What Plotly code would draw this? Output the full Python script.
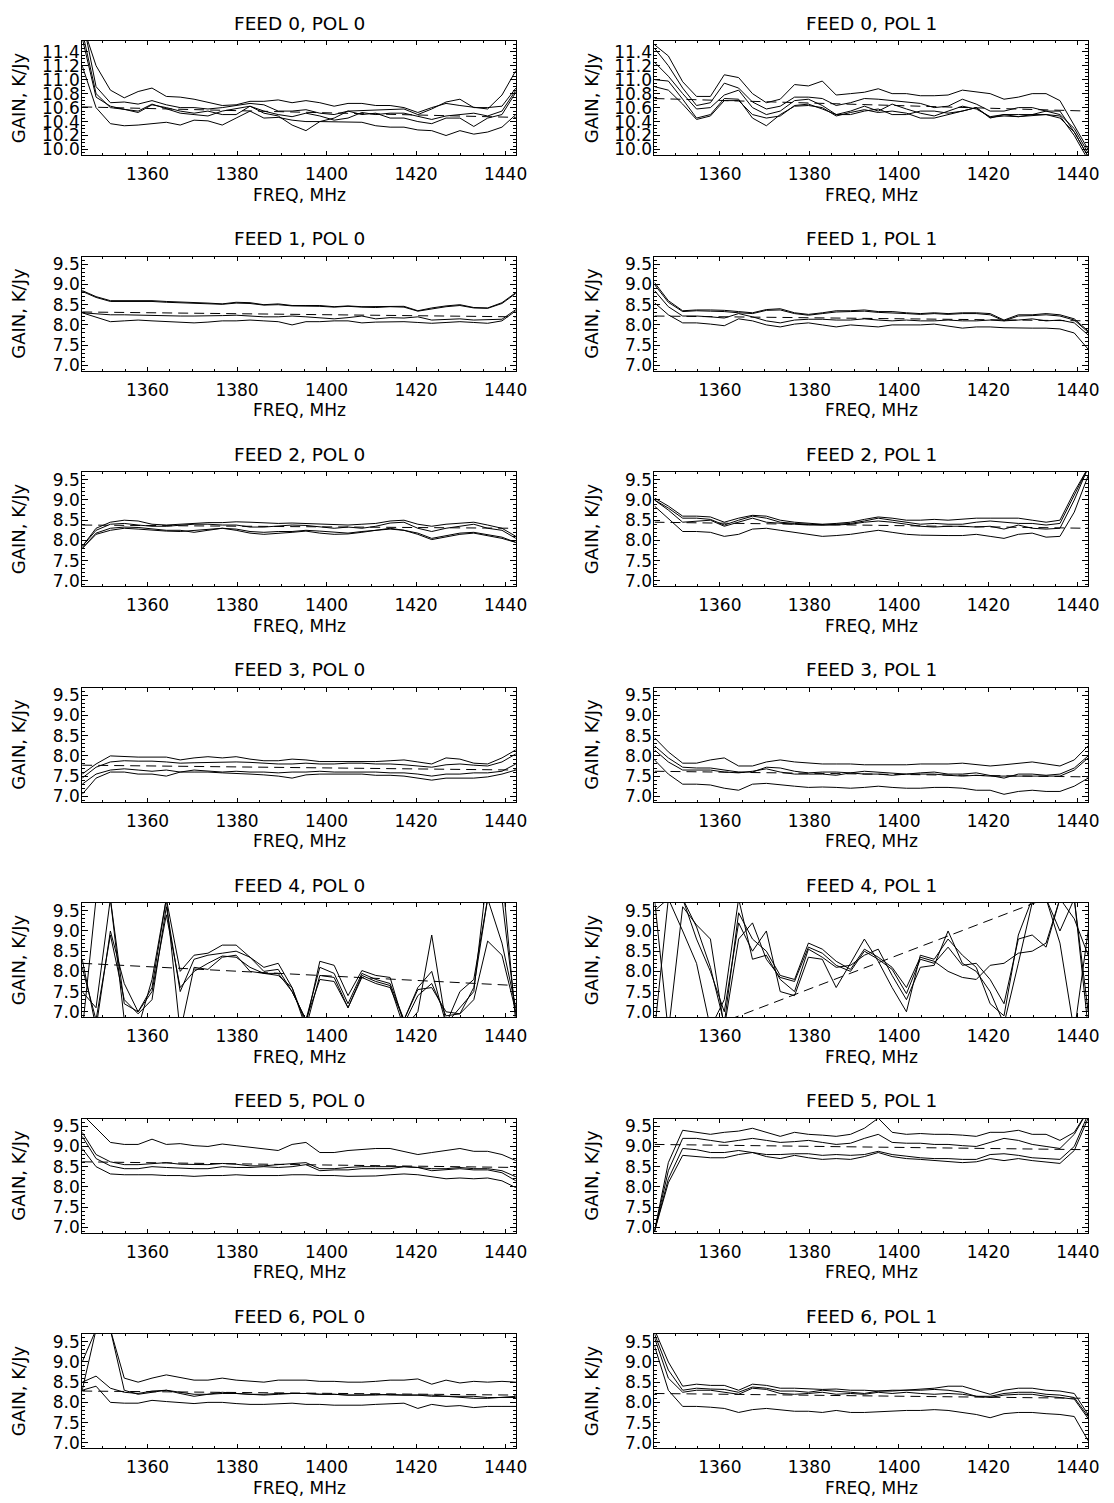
import plotly.graph_objects as go

# ---------------- data ----------------
freq = [1345.4, 1348.5, 1351.7, 1354.8, 1357.9, 1361.0, 1364.2, 1367.3, 1370.4, 1373.5,
        1376.7, 1379.8, 1382.9, 1386.0, 1389.2, 1392.3, 1395.4, 1398.5, 1401.7, 1404.8,
        1407.9, 1411.0, 1414.2, 1417.3, 1420.4, 1423.5, 1426.7, 1429.8, 1432.9, 1436.0,
        1439.2, 1442.3]

x_ticks = [1360, 1380, 1400, 1420, 1440]

titles = ["FEED 0, POL 0", "FEED 0, POL 1", "FEED 1, POL 0", "FEED 1, POL 1",
          "FEED 2, POL 0", "FEED 2, POL 1", "FEED 3, POL 0", "FEED 3, POL 1",
          "FEED 4, POL 0", "FEED 4, POL 1", "FEED 5, POL 0", "FEED 5, POL 1",
          "FEED 6, POL 0", "FEED 6, POL 1"]

F0P0 = [
    [11.8, 11.2, 10.85, 10.74, 10.83, 10.88, 10.76, 10.75, 10.72, 10.68, 10.63, 10.64, 10.69, 10.69, 10.71, 10.67,
     10.70, 10.67, 10.62, 10.66, 10.66, 10.63, 10.63, 10.60, 10.53, 10.60, 10.66, 10.63, 10.60, 10.58, 10.78, 11.13],
    [11.9, 10.9, 10.67, 10.68, 10.65, 10.70, 10.64, 10.60, 10.60, 10.58, 10.60, 10.63, 10.66, 10.64, 10.55, 10.55,
     10.57, 10.52, 10.50, 10.55, 10.56, 10.57, 10.58, 10.58, 10.50, 10.58, 10.68, 10.72, 10.60, 10.60, 10.62, 10.88],
    [11.7, 10.8, 10.60, 10.57, 10.55, 10.65, 10.58, 10.52, 10.50, 10.48, 10.55, 10.58, 10.62, 10.55, 10.50, 10.47,
     10.52, 10.48, 10.42, 10.45, 10.53, 10.50, 10.52, 10.52, 10.48, 10.43, 10.48, 10.50, 10.52, 10.48, 10.55, 10.85],
    [11.6, 10.75, 10.62, 10.57, 10.53, 10.64, 10.60, 10.55, 10.52, 10.55, 10.50, 10.50, 10.62, 10.52, 10.48, 10.35,
     10.27, 10.40, 10.45, 10.55, 10.50, 10.52, 10.45, 10.45, 10.40, 10.37, 10.45, 10.45, 10.33, 10.45, 10.50, 10.82],
    [11.2, 10.6, 10.37, 10.34, 10.35, 10.37, 10.39, 10.35, 10.42, 10.41, 10.35, 10.45, 10.55, 10.45, 10.46, 10.42,
     10.40, 10.40, 10.40, 10.40, 10.39, 10.34, 10.32, 10.32, 10.28, 10.27, 10.20, 10.27, 10.22, 10.25, 10.32, 10.50],
]
F0P1 = [
    [11.5, 11.34, 10.97, 10.76, 10.76, 11.07, 11.03, 10.80, 10.67, 10.72, 10.93, 10.91, 10.98, 10.78, 10.80, 10.82,
     10.87, 10.80, 10.80, 10.77, 10.77, 10.78, 10.85, 10.83, 10.80, 10.72, 10.75, 10.80, 10.80, 10.70, 10.35, 10.00],
    [11.45, 11.2, 10.88, 10.63, 10.67, 10.95, 10.88, 10.68, 10.58, 10.62, 10.75, 10.75, 10.73, 10.63, 10.67, 10.73,
     10.72, 10.70, 10.68, 10.66, 10.60, 10.62, 10.72, 10.65, 10.55, 10.55, 10.60, 10.60, 10.55, 10.50, 10.30, 9.95],
    [11.25, 11.05, 10.80, 10.58, 10.60, 10.78, 10.85, 10.60, 10.50, 10.55, 10.70, 10.72, 10.63, 10.50, 10.55, 10.62,
     10.55, 10.65, 10.58, 10.52, 10.48, 10.55, 10.62, 10.58, 10.47, 10.50, 10.47, 10.50, 10.55, 10.55, 10.25, 9.90],
    [11.0, 10.98, 10.72, 10.45, 10.50, 10.73, 10.72, 10.45, 10.34, 10.50, 10.62, 10.63, 10.60, 10.48, 10.53, 10.57,
     10.53, 10.55, 10.52, 10.45, 10.45, 10.50, 10.55, 10.60, 10.46, 10.48, 10.47, 10.48, 10.50, 10.48, 10.20, 9.85],
    [10.9, 10.85, 10.65, 10.43, 10.48, 10.70, 10.70, 10.50, 10.45, 10.48, 10.63, 10.65, 10.58, 10.50, 10.50, 10.55,
     10.58, 10.50, 10.50, 10.55, 10.55, 10.52, 10.55, 10.60, 10.45, 10.50, 10.50, 10.50, 10.50, 10.45, 10.25, 9.90],
]
F1P0 = [
    [8.85, 8.70, 8.60, 8.60, 8.60, 8.60, 8.58, 8.57, 8.55, 8.54, 8.52, 8.56, 8.55, 8.50, 8.52, 8.48,
     8.48, 8.48, 8.45, 8.47, 8.45, 8.45, 8.46, 8.46, 8.35, 8.42, 8.47, 8.50, 8.43, 8.42, 8.55, 8.80],
    [8.83, 8.68, 8.58, 8.58, 8.59, 8.58, 8.56, 8.55, 8.54, 8.52, 8.51, 8.54, 8.53, 8.49, 8.50, 8.47,
     8.47, 8.46, 8.44, 8.46, 8.44, 8.43, 8.45, 8.44, 8.34, 8.40, 8.45, 8.48, 8.42, 8.41, 8.53, 8.78],
    [8.30, 8.28, 8.25, 8.25, 8.24, 8.23, 8.23, 8.22, 8.22, 8.22, 8.23, 8.24, 8.22, 8.20, 8.20, 8.22,
     8.20, 8.18, 8.15, 8.18, 8.22, 8.15, 8.18, 8.17, 8.20, 8.12, 8.13, 8.15, 8.12, 8.13, 8.14, 8.38],
    [8.30, 8.20, 8.08, 8.10, 8.12, 8.10, 8.08, 8.06, 8.05, 8.07, 8.10, 8.10, 8.12, 8.10, 8.08, 8.00,
     8.08, 8.08, 8.10, 8.10, 8.05, 8.07, 8.08, 8.08, 8.06, 8.04, 8.06, 8.08, 8.06, 8.04, 8.10, 8.35],
]
F1P1 = [
    [9.05, 8.60, 8.35, 8.37, 8.37, 8.36, 8.33, 8.30, 8.38, 8.40, 8.30, 8.26, 8.30, 8.35, 8.35, 8.37,
     8.33, 8.33, 8.30, 8.28, 8.30, 8.28, 8.30, 8.30, 8.28, 8.12, 8.25, 8.25, 8.28, 8.25, 8.15, 7.85],
    [9.00, 8.56, 8.33, 8.35, 8.34, 8.33, 8.30, 8.28, 8.36, 8.37, 8.28, 8.24, 8.28, 8.32, 8.33, 8.34,
     8.31, 8.30, 8.28, 8.26, 8.28, 8.26, 8.28, 8.28, 8.25, 8.10, 8.22, 8.23, 8.25, 8.22, 8.12, 7.82],
    [8.85, 8.45, 8.22, 8.22, 8.20, 8.17, 8.28, 8.20, 8.10, 8.05, 8.12, 8.14, 8.14, 8.12, 8.12, 8.15,
     8.12, 8.10, 8.12, 8.10, 8.10, 8.12, 8.10, 8.10, 8.12, 8.10, 8.12, 8.15, 8.10, 8.12, 8.05, 7.75],
    [8.55, 8.25, 8.05, 8.05, 8.02, 7.98, 8.15, 8.10, 8.00, 7.95, 8.02, 8.05, 8.00, 7.95, 8.00, 7.98,
     7.95, 8.00, 8.00, 8.00, 8.02, 7.97, 7.92, 7.95, 7.95, 7.93, 7.92, 7.92, 7.92, 7.90, 7.80, 7.40],
]
F2P0 = [
    [7.85, 8.30, 8.45, 8.50, 8.48, 8.40, 8.38, 8.40, 8.42, 8.44, 8.44, 8.46, 8.45, 8.44, 8.42, 8.43,
     8.42, 8.40, 8.40, 8.38, 8.40, 8.42, 8.48, 8.50, 8.40, 8.35, 8.40, 8.42, 8.45, 8.38, 8.30, 8.10],
    [7.85, 8.25, 8.40, 8.42, 8.38, 8.35, 8.35, 8.38, 8.40, 8.40, 8.38, 8.38, 8.33, 8.33, 8.36, 8.38,
     8.37, 8.33, 8.30, 8.33, 8.30, 8.35, 8.43, 8.45, 8.30, 8.22, 8.30, 8.35, 8.40, 8.30, 8.25, 8.05],
    [7.80, 8.18, 8.30, 8.33, 8.32, 8.28, 8.25, 8.25, 8.20, 8.25, 8.30, 8.28, 8.22, 8.20, 8.22, 8.22,
     8.25, 8.23, 8.20, 8.18, 8.22, 8.25, 8.28, 8.25, 8.18, 8.05, 8.12, 8.18, 8.20, 8.15, 8.08, 7.95],
    [7.80, 8.15, 8.25, 8.30, 8.28, 8.25, 8.23, 8.22, 8.25, 8.28, 8.30, 8.25, 8.18, 8.15, 8.17, 8.20,
     8.23, 8.18, 8.15, 8.16, 8.20, 8.25, 8.30, 8.25, 8.15, 8.02, 8.08, 8.15, 8.18, 8.12, 8.05, 7.95],
]
F2P1 = [
    [9.05, 8.85, 8.60, 8.60, 8.58, 8.45, 8.55, 8.62, 8.60, 8.50, 8.45, 8.42, 8.40, 8.42, 8.45, 8.52,
     8.58, 8.55, 8.50, 8.50, 8.52, 8.50, 8.52, 8.55, 8.55, 8.55, 8.55, 8.50, 8.45, 8.50, 9.20, 9.80],
    [9.00, 8.80, 8.55, 8.55, 8.52, 8.38, 8.50, 8.60, 8.55, 8.45, 8.42, 8.40, 8.38, 8.40, 8.42, 8.48,
     8.55, 8.50, 8.45, 8.40, 8.42, 8.40, 8.40, 8.45, 8.48, 8.45, 8.42, 8.42, 8.38, 8.42, 9.10, 9.80],
    [9.00, 8.75, 8.45, 8.48, 8.50, 8.35, 8.45, 8.55, 8.45, 8.42, 8.40, 8.38, 8.38, 8.38, 8.40, 8.45,
     8.48, 8.45, 8.40, 8.35, 8.33, 8.35, 8.35, 8.33, 8.35, 8.28, 8.38, 8.30, 8.28, 8.30, 9.00, 9.80],
    [8.85, 8.55, 8.22, 8.22, 8.20, 8.10, 8.15, 8.28, 8.30, 8.25, 8.20, 8.15, 8.10, 8.12, 8.15, 8.20,
     8.25, 8.20, 8.15, 8.13, 8.12, 8.12, 8.12, 8.15, 8.10, 8.05, 8.15, 8.18, 8.08, 8.10, 8.70, 9.60],
]
F3P0 = [
    [7.55, 7.80, 8.00, 7.98, 7.97, 7.97, 7.97, 7.90, 7.95, 7.98, 7.95, 7.98, 7.92, 7.88, 7.88, 7.92,
     7.90, 7.86, 7.86, 7.85, 7.85, 7.86, 7.88, 7.90, 7.85, 7.80, 7.95, 7.92, 7.82, 7.80, 7.95, 8.15],
    [7.45, 7.72, 7.85, 7.88, 7.87, 7.87, 7.85, 7.82, 7.83, 7.84, 7.84, 7.85, 7.84, 7.82, 7.80, 7.80,
     7.82, 7.80, 7.80, 7.82, 7.82, 7.80, 7.80, 7.78, 7.75, 7.72, 7.78, 7.80, 7.77, 7.75, 7.85, 8.05],
    [7.30, 7.55, 7.65, 7.68, 7.65, 7.62, 7.65, 7.60, 7.65, 7.62, 7.60, 7.62, 7.60, 7.60, 7.58, 7.60,
     7.60, 7.62, 7.60, 7.60, 7.60, 7.60, 7.58, 7.58, 7.55, 7.50, 7.55, 7.55, 7.58, 7.58, 7.62, 7.80],
    [7.05, 7.45, 7.60, 7.60, 7.55, 7.55, 7.50, 7.60, 7.60, 7.60, 7.58, 7.57, 7.55, 7.53, 7.50, 7.45,
     7.53, 7.55, 7.55, 7.55, 7.55, 7.52, 7.52, 7.50, 7.45, 7.40, 7.45, 7.45, 7.45, 7.48, 7.55, 7.65],
]
F3P1 = [
    [8.45, 8.10, 7.82, 7.82, 7.90, 7.95, 7.75, 7.75, 7.85, 7.90, 7.85, 7.82, 7.80, 7.80, 7.80, 7.78,
     7.78, 7.78, 7.78, 7.80, 7.80, 7.80, 7.82, 7.78, 7.75, 7.78, 7.82, 7.85, 7.80, 7.75, 7.90, 8.25],
    [8.25, 7.95, 7.72, 7.70, 7.70, 7.65, 7.60, 7.60, 7.72, 7.70, 7.62, 7.58, 7.60, 7.60, 7.58, 7.62,
     7.60, 7.58, 7.55, 7.58, 7.60, 7.55, 7.55, 7.58, 7.52, 7.45, 7.55, 7.55, 7.52, 7.55, 7.70, 8.00],
    [8.15, 7.85, 7.65, 7.65, 7.65, 7.60, 7.58, 7.62, 7.68, 7.60, 7.55, 7.55, 7.55, 7.52, 7.58, 7.55,
     7.55, 7.52, 7.55, 7.55, 7.55, 7.52, 7.50, 7.52, 7.50, 7.50, 7.50, 7.50, 7.50, 7.50, 7.65, 7.95],
    [7.90, 7.55, 7.30, 7.30, 7.28, 7.20, 7.15, 7.30, 7.32, 7.28, 7.25, 7.22, 7.23, 7.22, 7.20, 7.22,
     7.25, 7.22, 7.20, 7.20, 7.22, 7.22, 7.20, 7.15, 7.15, 7.05, 7.12, 7.15, 7.12, 7.12, 7.25, 7.45],
]
F4P0 = [
    [8.30, 6.60, 9.00, 7.70, 7.00, 7.60, 9.80, 8.00, 8.40, 8.45, 8.65, 8.65, 8.35, 8.10, 8.20, 7.60,
     6.70, 8.25, 8.15, 7.40, 8.02, 7.90, 7.85, 6.70, 7.40, 7.70, 6.90, 6.95, 7.30, 8.75, 8.40, 7.00],
    [8.10, 6.80, 8.90, 7.30, 6.95, 7.30, 9.60, 7.50, 8.30, 8.40, 8.45, 8.50, 8.35, 8.00, 8.05, 7.50,
     6.80, 8.10, 7.95, 7.20, 7.95, 7.80, 7.70, 6.80, 7.60, 8.00, 6.70, 7.50, 7.80, 9.80, 8.70, 7.10],
    [6.50, 9.80, 9.80, 7.20, 7.00, 7.50, 9.40, 7.60, 8.00, 8.20, 8.38, 8.35, 8.10, 7.95, 7.90, 7.60,
     6.60, 7.90, 7.85, 7.10, 7.90, 7.75, 7.65, 6.60, 7.00, 8.90, 6.70, 7.10, 7.50, 10.50, 9.80, 6.90],
    [7.50, 7.10, 9.80, 6.80, 6.60, 7.80, 9.80, 6.50, 8.10, 8.05, 8.35, 8.40, 8.00, 7.95, 7.95, 7.50,
     6.80, 7.80, 7.75, 7.10, 7.85, 7.70, 7.60, 6.80, 7.55, 7.60, 7.00, 6.95, 7.60, 9.80, 10.50, 6.70],
]
F4P1 = [
    [9.70, 9.80, 9.80, 9.10, 8.10, 6.70, 9.45, 8.80, 8.50, 7.90, 7.80, 8.70, 8.55, 8.25, 8.05, 8.55,
     8.35, 8.10, 7.60, 8.35, 8.25, 8.00, 7.85, 7.80, 8.15, 8.20, 8.45, 8.50, 8.70, 9.80, 9.80, 7.00],
    [9.80, 6.50, 9.60, 9.15, 8.80, 6.60, 8.80, 9.20, 8.30, 7.85, 7.75, 8.60, 8.45, 8.15, 8.00, 8.50,
     8.30, 8.05, 7.45, 8.30, 8.20, 8.60, 8.15, 8.20, 7.80, 7.20, 8.80, 8.90, 8.60, 9.80, 9.30, 8.40],
    [6.50, 9.80, 9.80, 8.80, 8.00, 7.00, 9.20, 8.50, 9.00, 7.50, 7.40, 8.35, 8.30, 7.60, 8.20, 8.80,
     8.25, 7.60, 7.00, 8.40, 8.30, 8.80, 8.40, 8.10, 7.20, 6.90, 8.90, 9.80, 9.80, 8.70, 6.50, 9.00],
    [9.50, 9.80, 9.00, 8.20, 6.60, 7.30, 9.80, 8.30, 8.40, 7.80, 7.50, 8.55, 8.35, 8.10, 8.15, 8.40,
     8.55, 7.90, 7.30, 8.10, 8.15, 9.00, 8.20, 8.00, 7.50, 6.70, 8.20, 9.70, 9.80, 9.00, 9.80, 6.60],
]
F5P0 = [
    [9.80, 9.45, 9.10, 9.05, 9.05, 9.18, 9.05, 9.07, 9.02, 9.00, 9.06, 9.02, 8.98, 8.95, 8.90, 9.05,
     9.10, 8.85, 8.85, 8.90, 8.92, 8.95, 8.95, 8.88, 8.80, 8.85, 8.90, 8.95, 8.88, 8.88, 8.80, 8.65],
    [9.35, 8.80, 8.62, 8.55, 8.55, 8.58, 8.60, 8.56, 8.55, 8.55, 8.58, 8.56, 8.52, 8.52, 8.55, 8.58,
     8.60, 8.45, 8.45, 8.48, 8.50, 8.50, 8.50, 8.50, 8.48, 8.45, 8.45, 8.48, 8.45, 8.45, 8.40, 8.25],
    [9.25, 8.70, 8.52, 8.45, 8.45, 8.50, 8.48, 8.46, 8.45, 8.45, 8.50, 8.48, 8.48, 8.50, 8.48, 8.50,
     8.55, 8.40, 8.42, 8.42, 8.45, 8.45, 8.45, 8.50, 8.48, 8.40, 8.42, 8.45, 8.42, 8.42, 8.35, 8.15],
    [8.95, 8.50, 8.32, 8.30, 8.30, 8.30, 8.28, 8.28, 8.26, 8.28, 8.28, 8.30, 8.28, 8.28, 8.28, 8.30,
     8.30, 8.28, 8.28, 8.26, 8.27, 8.27, 8.30, 8.32, 8.30, 8.25, 8.20, 8.22, 8.20, 8.22, 8.15, 7.98],
]
F5P1 = [
    [6.90, 8.60, 9.40, 9.35, 9.30, 9.35, 9.38, 9.45, 9.35, 9.25, 9.35, 9.30, 9.28, 9.25, 9.30, 9.45,
     9.70, 9.35, 9.30, 9.32, 9.30, 9.30, 9.28, 9.25, 9.35, 9.35, 9.40, 9.30, 9.30, 9.15, 9.35, 9.90],
    [6.90, 8.40, 9.20, 9.20, 9.15, 9.10, 9.15, 9.20, 9.15, 9.10, 9.12, 9.15, 9.10, 9.05, 9.08, 9.20,
     9.30, 9.10, 9.08, 9.08, 9.05, 9.05, 9.02, 9.00, 9.10, 9.20, 9.15, 9.05, 9.00, 8.95, 9.30, 9.90],
    [6.90, 8.20, 8.95, 8.92, 8.85, 8.85, 8.90, 8.85, 8.80, 8.80, 8.82, 8.82, 8.78, 8.80, 8.78, 8.80,
     8.88, 8.80, 8.75, 8.72, 8.70, 8.70, 8.68, 8.68, 8.80, 8.82, 8.78, 8.72, 8.70, 8.68, 9.00, 9.80],
    [6.90, 8.10, 8.78, 8.75, 8.72, 8.72, 8.80, 8.85, 8.75, 8.70, 8.78, 8.72, 8.68, 8.70, 8.68, 8.75,
     8.85, 8.75, 8.70, 8.68, 8.65, 8.62, 8.60, 8.62, 8.70, 8.65, 8.70, 8.65, 8.62, 8.58, 8.90, 9.70],
]
F6P0 = [
    [9.00, 9.80, 9.80, 8.60, 8.50, 8.60, 8.68, 8.62, 8.55, 8.55, 8.60, 8.55, 8.52, 8.50, 8.55, 8.55,
     8.55, 8.52, 8.52, 8.50, 8.50, 8.52, 8.55, 8.55, 8.58, 8.45, 8.55, 8.48, 8.52, 8.50, 8.52, 8.50],
    [8.50, 8.65, 8.35, 8.25, 8.22, 8.28, 8.30, 8.25, 8.20, 8.20, 8.22, 8.22, 8.20, 8.20, 8.22, 8.22,
     8.22, 8.20, 8.20, 8.18, 8.18, 8.18, 8.20, 8.18, 8.18, 8.15, 8.15, 8.15, 8.15, 8.12, 8.12, 8.12],
    [8.30, 9.80, 9.80, 8.30, 8.20, 8.25, 8.30, 8.22, 8.15, 8.20, 8.25, 8.22, 8.20, 8.18, 8.20, 8.22,
     8.22, 8.20, 8.20, 8.18, 8.18, 8.20, 8.18, 8.18, 8.17, 8.18, 8.15, 8.12, 8.10, 8.10, 8.12, 8.15],
    [8.30, 8.40, 8.00, 7.98, 7.98, 8.05, 8.02, 8.00, 7.97, 8.00, 8.00, 7.97, 7.95, 7.95, 7.97, 7.98,
     7.95, 7.95, 7.93, 7.93, 7.93, 7.95, 7.97, 7.98, 7.85, 7.95, 7.90, 7.92, 7.87, 7.90, 7.90, 7.90],
]
F6P1 = [
    [9.80, 9.00, 8.40, 8.45, 8.42, 8.42, 8.30, 8.45, 8.42, 8.35, 8.35, 8.33, 8.32, 8.33, 8.30, 8.30,
     8.28, 8.28, 8.30, 8.32, 8.35, 8.40, 8.40, 8.30, 8.20, 8.30, 8.35, 8.35, 8.30, 8.28, 8.22, 7.70],
    [9.70, 8.80, 8.30, 8.35, 8.33, 8.32, 8.25, 8.38, 8.35, 8.28, 8.28, 8.25, 8.30, 8.28, 8.25, 8.22,
     8.28, 8.30, 8.30, 8.30, 8.32, 8.30, 8.25, 8.15, 8.15, 8.22, 8.25, 8.25, 8.20, 8.18, 8.12, 7.65],
    [9.60, 8.60, 8.25, 8.30, 8.30, 8.25, 8.20, 8.35, 8.32, 8.22, 8.20, 8.22, 8.25, 8.20, 8.22, 8.20,
     8.25, 8.22, 8.25, 8.22, 8.20, 8.22, 8.20, 8.15, 8.12, 8.18, 8.20, 8.20, 8.15, 8.12, 8.08, 7.60],
    [9.40, 8.30, 7.90, 7.90, 7.88, 7.85, 7.75, 7.82, 7.85, 7.82, 7.78, 7.78, 7.75, 7.80, 7.75, 7.75,
     7.77, 7.78, 7.80, 7.80, 7.82, 7.80, 7.75, 7.70, 7.62, 7.72, 7.75, 7.75, 7.72, 7.70, 7.65, 7.05],
]

# linear-fit (dashed) end values per panel
fits = [[10.61, 10.46], [10.73, 10.55], [8.32, 8.20], [8.22, 8.10],
        [8.38, 8.30], [8.45, 8.30], [7.77, 7.65], [7.62, 7.48],
        [8.20, 7.65], [6.10, 10.20], [8.62, 8.48], [9.05, 8.92],
        [8.28, 8.18], [8.22, 8.10]]

panels = [F0P0, F0P1, F1P0, F1P1, F2P0, F2P1, F3P0, F3P1,
          F4P0, F4P1, F5P0, F5P1, F6P0, F6P1]

# ---------------- layout geometry (pixels) ----------------
W, H = 1114, 1503
col_x = [(83, 521), (661, 1099)]
row_top0, row_step, plot_h = 39.3, 216.5, 114.5

FONT = "DejaVu Sans"
fig = go.Figure()
annotations = []
layout = dict(width=W, height=H, margin=dict(l=0, r=0, t=0, b=0),
              paper_bgcolor="white", plot_bgcolor="white", showlegend=False,
              font=dict(family=FONT, color="black", size=17))

for k, lines in enumerate(panels):
    r, c = divmod(k, 2)
    x0, x1 = col_x[c]
    top = row_top0 + row_step * r
    bot = top + plot_h
    n = k + 1
    xa = "x" if n == 1 else f"x{n}"
    ya = "y" if n == 1 else f"y{n}"
    for ys in lines:
        fig.add_trace(go.Scatter(x=freq, y=ys, mode="lines", xaxis=xa, yaxis=ya,
                                 line=dict(color="black", width=1), hoverinfo="skip"))
    fig.add_trace(go.Scatter(x=[freq[0], freq[-1]], y=fits[k], mode="lines", xaxis=xa, yaxis=ya,
                             line=dict(color="black", width=1, dash="10px,6px"), hoverinfo="skip"))

    if r == 0:
        yr, ydt, y0t, ymin = [9.92, 11.552], 0.2, 10.0, 0.05
    else:
        yr, ydt, y0t, ymin = [6.87, 9.69], 0.5, 7.0, 0.1

    xkey = "xaxis" if n == 1 else f"xaxis{n}"
    ykey = "yaxis" if n == 1 else f"yaxis{n}"
    layout[xkey] = dict(domain=[x0 / W, x1 / W], anchor=ya, range=[freq[0], freq[-1]],
                        tickmode="array", tickvals=x_ticks, ticks="inside", ticklen=4,
                        tickcolor="black", tickwidth=1,
                        minor=dict(dtick=5, tick0=1360, ticks="inside", ticklen=2, tickcolor="black"),
                        showline=True, linecolor="black", linewidth=1, mirror="allticks",
                        showgrid=False, zeroline=False, ticklabelstandoff=4,
                        tickfont=dict(family=FONT, size=17, color="black"))
    layout[ykey] = dict(domain=[1 - bot / H, 1 - top / H], anchor=xa, range=yr,
                        tick0=y0t, dtick=ydt, tickformat=".1f", ticks="inside", ticklen=6,
                        tickcolor="black", tickwidth=1,
                        minor=dict(dtick=ymin, ticks="inside", ticklen=3, tickcolor="black"),
                        showline=True, linecolor="black", linewidth=1, mirror="allticks",
                        showgrid=False, zeroline=False, ticklabelstandoff=-2,
                        tickfont=dict(family=FONT, size=17, color="black"))

    xc = (x0 + x1) / 2
    annotations.append(dict(text=titles[k], x=xc / W, y=1 - (top - 18) / H, xref="paper", yref="paper",
                            showarrow=False, xanchor="center", yanchor="middle",
                            font=dict(family=FONT, size=18.5, color="black")))
    annotations.append(dict(text="FREQ, MHz", x=xc / W, y=1 - (bot + 40) / H, xref="paper", yref="paper",
                            showarrow=False, xanchor="center", yanchor="middle",
                            font=dict(family=FONT, size=17, color="black")))
    ytx = 18.3 if c == 0 else 597
    annotations.append(dict(text="GAIN, K/Jy", x=ytx / W, y=1 - (top + plot_h / 2) / H, xref="paper",
                            yref="paper", showarrow=False, xanchor="center", yanchor="middle",
                            textangle=-90, font=dict(family=FONT, size=18, color="black")))

layout["annotations"] = annotations
fig.update_layout(**layout)
fig.write_html("out.html", config={"displayModeBar": False},
               post_script="document.body.style.margin='0';document.body.style.overflow='hidden';")
